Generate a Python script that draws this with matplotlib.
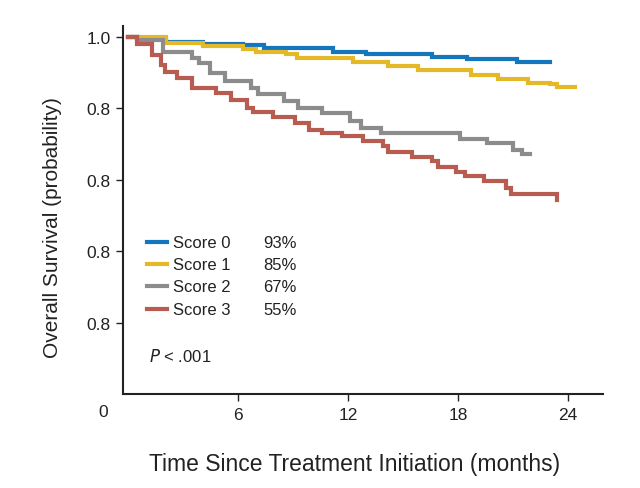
import matplotlib
matplotlib.use("Agg")
import matplotlib.pyplot as plt
from matplotlib.lines import Line2D

# Kaplan-Meier step data (months, survival)
t_score0 = [0, 0.55, 2.1, 4.1, 6.3, 7.4, 11.2, 13.0, 16.6, 18.5, 21.2, 23.0]
s_score0 = [1.0, 0.992, 0.985, 0.980, 0.976, 0.968, 0.957, 0.950, 0.943, 0.938, 0.928, 0.928]

t_score1 = [0, 2.1, 4.1, 6.3, 7.0, 8.6, 9.2, 12.3, 14.2, 15.8, 18.7, 20.2, 21.8, 23.0, 23.4, 24.4]
s_score1 = [1.0, 0.982, 0.974, 0.966, 0.957, 0.950, 0.940, 0.929, 0.918, 0.906, 0.894, 0.882,
            0.871, 0.867, 0.859, 0.859]

t_score2 = [0, 0.5, 1.9, 3.5, 3.9, 4.5, 5.3, 6.7, 7.1, 8.5, 9.3, 10.6, 12.1, 12.7, 13.8,
            18.1, 19.6, 21.0, 21.5, 21.9]
s_score2 = [1.0, 0.990, 0.957, 0.940, 0.926, 0.897, 0.876, 0.857, 0.839, 0.820, 0.801, 0.787,
            0.765, 0.745, 0.731, 0.715, 0.703, 0.682, 0.673, 0.673]

t_score3 = [0, 0.5, 1.3, 1.8, 2.0, 2.7, 3.5, 4.8, 5.6, 6.5, 6.8, 7.9, 9.1, 9.9, 10.6, 11.7,
            12.8, 13.9, 14.2, 15.5, 16.6, 16.9, 17.9, 18.4, 19.4, 20.6, 20.9, 23.4]
s_score3 = [1.0, 0.980, 0.948, 0.920, 0.901, 0.883, 0.855, 0.841, 0.822, 0.799, 0.789, 0.775,
            0.757, 0.740, 0.731, 0.721, 0.708, 0.693, 0.677, 0.663, 0.653, 0.634, 0.621, 0.610,
            0.596, 0.577, 0.561, 0.542]

labels = ["Score 0", "Score 1", "Score 2", "Score 3"]
percents = ["93%", "85%", "67%", "55%"]
colors = ["#1477bd", "#e5b828", "#8c8c8c", "#b85c52"]

x_ticks = [6, 12, 18, 24]
y_ticks = [0.2, 0.4, 0.6, 0.8, 1.0]
y_tick_labels = ["0.8", "0.8", "0.8", "0.8", "1.0"]

plt.rcParams['font.family'] = ['Liberation Sans', 'DejaVu Sans']

fig = plt.figure(figsize=(6.4, 4.89), dpi=100)
ax = fig.add_axes([0.192, 0.192, 0.75, 0.753])

series = [(t_score0, s_score0), (t_score1, s_score1), (t_score2, s_score2), (t_score3, s_score3)]
for (t, s), c in zip(series, colors):
    ax.step(t, s, where='post', color=c, lw=3.0, solid_joinstyle='miter')

ax.set_xlim(-0.27, 25.9)
ax.set_ylim(0, 1.03)
ax.set_xticks(x_ticks)
ax.set_xticklabels([str(v) for v in x_ticks])
ax.set_yticks(y_ticks)
ax.set_yticklabels(y_tick_labels)

for side in ['top', 'right']:
    ax.spines[side].set_visible(False)
for side in ['left', 'bottom']:
    ax.spines[side].set_linewidth(1.5)
    ax.spines[side].set_color('#222222')
ax.tick_params(axis='both', direction='out', length=5, width=1.0, colors='#222222',
               labelsize=12.5, pad=4)

ax.text(-0.042, -0.046, "0", transform=ax.transAxes, ha='center', va='center',
        fontsize=12.5, color='#222222')

ax.set_xlabel("Time Since Treatment Initiation (months)", fontsize=16.5, color='#222222')
ax.xaxis.set_label_coords(0.483, -0.157)
ax.set_ylabel("Overall Survival (probability)", fontsize=15, color='#222222')
ax.yaxis.set_label_coords(-0.126, 0.454)

# legend drawn by hand so the percentages line up in a column
row_y = [0.413, 0.353, 0.293, 0.231]
for lab, pct, c, yy in zip(labels, percents, colors, row_y):
    ax.add_line(Line2D([0.05, 0.092], [yy, yy], transform=ax.transAxes, color=c, lw=3.0))
    ax.text(0.104, yy, lab, transform=ax.transAxes, va='center', fontsize=12, color='#222222')
    ax.text(0.292, yy, pct, transform=ax.transAxes, va='center', fontsize=12, color='#222222')

ax.text(0.054, 0.106, "$P$ < .001", transform=ax.transAxes, va='center', fontsize=12,
        color='#222222')

fig.savefig("out.png", dpi=100)
